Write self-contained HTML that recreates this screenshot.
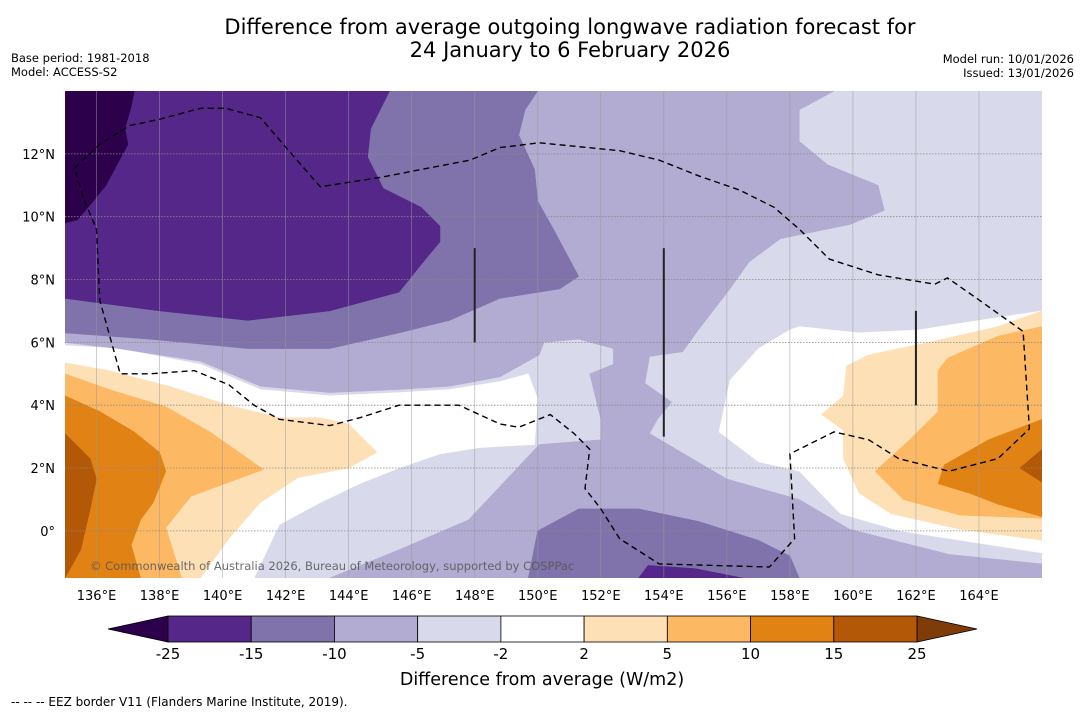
<!DOCTYPE html>
<html><head><meta charset="utf-8">
<style>
body{margin:0;background:#fff;width:1085px;height:713px;overflow:hidden;font-family:"Liberation Sans","DejaVu Sans",sans-serif;}
svg text{font-family:"DejaVu Sans","Liberation Sans",sans-serif;}
</style></head>
<body>
<svg id="chart" width="1085" height="713" viewBox="0 0 1085 713" xmlns="http://www.w3.org/2000/svg">
<text x="570" y="34" font-size="21" text-anchor="middle">Difference from average outgoing longwave radiation forecast for</text>
<text x="570" y="57" font-size="21" text-anchor="middle">24 January to 6 February 2026</text>
<text x="11" y="62" font-size="11.5">Base period: 1981-2018</text>
<text x="11" y="76" font-size="11.5">Model: ACCESS-S2</text>
<text x="1074" y="63" font-size="11.5" text-anchor="end">Model run: 10/01/2026</text>
<text x="1074" y="77" font-size="11.5" text-anchor="end">Issued: 13/01/2026</text>
<defs><clipPath id="mapclip"><rect x="65" y="91" width="977" height="487"/></clipPath></defs>
<g id="map" clip-path="url(#mapclip)"></g>
<g id="axes"></g>
<g id="cbar"></g>
<text x="542" y="685" font-size="17.5" text-anchor="middle">Difference from average (W/m2)</text>
<text x="11" y="706" font-size="12">--  --  -- EEZ border V11 (Flanders Marine Institute, 2019).</text>
</svg>
<script>
const lonTicks=[136,138,140,142,144,146,148,150,152,154,156,158,160,162,164];
const latTicks=[0,2,4,6,8,10,12];
const cbLevels=[-25,-15,-10,-5,-2,2,5,10,15,25];
const cbColors=["#542788","#8073ac","#b2abd2","#d8daeb","#ffffff","#fee0b6","#fdb863","#e08214","#b35806"];
const cbUnder="#2d004b", cbOver="#7f3b08";
const whiteLeft=[[135,5.9],[136.7,5.8],[139.3,5.3],[141.2,4.5],[143.4,4.3],[145.6,4.4],[147.2,4.5],[148.8,4.75],[149.7,5.0],[150,4.2],[149.9,2.75],[148.15,2.65],[146.9,2.45],[145.6,2.0],[144.35,1.5],[143.1,0.9],[141.8,0.2],[141,-1.5],[135,-1.5]];
const whiteRight=[[166,7.0],[164,6.7],[162.1,6.4],[160.2,6.3],[158.3,6.5],[158,6.4],[157,5.8],[156.1,4.8],[155.75,3.15],[157,2.2],[158.3,1.9],[159.6,0.55],[161.5,0],[163.4,-0.3],[166,-0.7]];
const lightPurple=[[150.05,14],[159.4,14],[158.3,13.4],[158.3,12.4],[159.2,11.65],[160.8,11.0],[161,10.2],[159.9,9.75],[157.7,9.3],[156.7,8.55],[156.1,7.7],[155.1,6.4],[154.6,5.7],[153.55,5.55],[153.4,4.7],[154.25,4.1],[153.8,3.55],[153.55,3.1],[156,1.65],[158.3,1.0],[159.9,0.05],[163.05,-0.75],[166,-1.05],[166,-1.5],[143.4,-1.5],[145.6,-0.6],[147.8,0.35],[150.05,2.75],[152,2.9],[152,3.55],[151.65,5.0],[152.4,5.3],[152.4,5.8],[151.3,6.1],[150.2,6.0],[150.05,5.6],[148.8,4.9],[147.2,4.6],[145.6,4.5],[143.4,4.4],[141.2,4.6],[139.3,5.4],[136.7,5.8],[135,6.0],[135,14]];
const midPurpleTop=[[135,14],[150,14],[149.6,13.4],[149.4,12.6],[149.9,11.5],[150,10.5],[150.5,9.6],[151.3,8.1],[150.7,7.7],[148.8,7.4],[147.2,6.7],[145.6,6.3],[143.4,5.8],[140.8,5.8],[137.7,6.1],[135,6.3]];
const midPurpleBottom=[[149.7,-1.5],[150,0],[151.3,0.7],[153.2,0.7],[155.1,0.3],[157,-0.3],[158,-0.8],[158.3,-1.5]];
const darkPurpleTop=[[135,14],[145.3,14],[144.7,12.8],[144.6,11.9],[145.1,10.9],[146.3,10.3],[146.9,9.7],[146.9,9.2],[146.4,8.6],[145.6,7.6],[143.4,7.0],[140.8,6.7],[138,7.0],[135,7.4]];
const darkPurpleBottom=[[153.2,-1.5],[153.5,-1.1],[155,-1.2],[156.5,-1.5]];
const deepPurple=[[135,14],[137.2,14],[137.1,13.5],[136.9,12.8],[137,12.3],[136.3,11],[135.9,10.5],[135.4,9.9],[135,9.8]];
const orL1=[[135,5.35],[136.4,5.1],[138.3,4.6],[140.2,4.0],[141.8,3.6],[143.1,3.6],[144,3.4],[144.9,2.5],[144,2.0],[142.4,1.7],[141.2,0.9],[140.2,-0.25],[139.3,-1.5],[135,-1.5]];
const orL2=[[135,5.0],[136.4,4.5],[138.2,3.95],[139.6,3.15],[141.3,1.95],[140.2,1.55],[139,1.1],[138.2,0.1],[138.7,-1.5],[135,-1.5]];
const orL3=[[135,4.3],[136.1,3.8],[137.2,3.15],[138,2.5],[138.2,1.9],[137.8,0.9],[137.4,0.35],[137.1,-0.45],[137.4,-1.5],[135,-1.5]];
const orL4=[[135,3.1],[135.8,2.3],[136,1.65],[135.8,0.7],[135.5,-0.6],[135,-1.5]];
const orR1=[[166,7.0],[164.6,6.5],[162.4,6.0],[160.5,5.6],[159.8,5.25],[159.7,4.3],[159,3.7],[159.7,3.2],[159.7,2.3],[160.2,1.2],[161.2,0.55],[163.4,0.05],[166,-0.3]];
const orR2=[[166,6.5],[164.6,6.2],[163,5.5],[162.7,5.1],[162.7,3.8],[161.8,2.9],[160.7,1.9],[161.6,1.0],[163.4,0.5],[166,0.4]];
const orR3=[[166,3.55],[164.3,2.9],[162.9,2.1],[162.7,1.5],[163.7,1.2],[164.6,0.85],[166,0.45]];
const orR4=[[166,2.6],[165.3,2.0],[166,1.55]];
const eez=[[135.3,11.55],[136.1,12.3],[137.05,12.9],[138,13.1],[139.3,13.45],[140.1,13.45],[141.2,13.15],[142.1,12.1],[143.1,10.95],[145,11.25],[147.85,11.8],[148.8,12.2],[150.05,12.35],[152.6,12.1],[153.85,11.8],[155.1,11.3],[156.4,10.85],[157.5,10.3],[158.3,9.6],[159.25,8.65],[160.8,8.15],[162.6,7.85],[163,8.05],[164,7.35],[165.4,6.35],[165.6,3.25],[164.6,2.3],[163.05,1.9],[161.45,2.3],[160.5,2.9],[159.4,3.15],[158,2.45],[158.15,-0.25],[157.35,-1.15],[153.85,-1.05],[152.6,-0.25],[152,0.7],[151.5,1.35],[151.65,2.6],[151.15,3.1],[150.4,3.7],[149.4,3.3],[148.8,3.4],[147.5,4.0],[145.6,4.0],[144.35,3.6],[143.4,3.35],[141.8,3.55],[141,4.0],[140.2,4.65],[139.1,5.1],[137.7,5.0],[136.75,5.0],[136.1,7.35],[136,9.6],[135.6,10.55],[135.3,11.55]];
const segLons=[148,154,162];
const segLat0=[6,3,4];
const segLat1=[9,9,7];

const NS="http://www.w3.org/2000/svg";
const X0=65,X1=1042,Y0=91,Y1=578,LON0=135,LON1=166,LAT0=-1.5,LAT1=14;
const sx=l=>X0+(l-LON0)/(LON1-LON0)*(X1-X0);
const sy=l=>Y1-(l-LAT0)/(LAT1-LAT0)*(Y1-Y0);
function mk(tag,attrs,parent){const e=document.createElementNS(NS,tag);for(const k in attrs)e.setAttribute(k,attrs[k]);parent.appendChild(e);return e;}
const pts=a=>a.map(p=>sx(p[0]).toFixed(1)+","+sy(p[1]).toFixed(1)).join(" ");
const map=document.getElementById("map");
let bg=mk("rect",{x:X0,y:Y0,width:X1-X0,height:Y1-Y0,fill:"#d8daeb"},map);


const layers=[[whiteLeft,"#ffffff","white-left"],[whiteRight,"#ffffff","white-right"],[lightPurple,"#b2abd2","light-purple"],[midPurpleTop,"#8073ac","mid-purple-top"],[midPurpleBottom,"#8073ac","mid-purple-bottom"],[darkPurpleTop,"#542788","dark-purple-top"],[darkPurpleBottom,"#542788","dark-purple-bottom"],[deepPurple,"#2d004b","deep-purple"],[orL1,"#fee0b6","orange1-left"],[orL2,"#fdb863","orange2-left"],[orL3,"#e08214","orange3-left"],[orL4,"#b35806","orange4-left"],[orR1,"#fee0b6","orange1-right"],[orR2,"#fdb863","orange2-right"],[orR3,"#e08214","orange3-right"],[orR4,"#b35806","orange4-right"]];
layers.forEach(L=>{const p=mk("polygon",{points:pts(L[0]),fill:L[1],stroke:L[1],"stroke-width":0.5},map);

});
lonTicks.forEach(l=>{const g=mk("line",{x1:sx(l),x2:sx(l),y1:Y0,y2:Y1,stroke:"#999",opacity:0.6,"stroke-width":0.8},map);

});
latTicks.forEach(l=>{const g=mk("line",{x1:X0,x2:X1,y1:sy(l),y2:sy(l),stroke:"#888","stroke-width":0.8,"stroke-dasharray":"1.5,1.5"},map);

});
const ez=mk("polyline",{points:pts(eez),fill:"none",stroke:"#000","stroke-width":1.4,"stroke-dasharray":"6,4"},map);


segLons.forEach((l,i)=>{const s=mk("line",{x1:sx(l),x2:sx(l),y1:sy(segLat0[i]),y2:sy(segLat1[i]),stroke:"#222","stroke-width":2},map);

});
const cp=mk("text",{x:90,y:570,"font-size":11.5,fill:"#555",opacity:0.85},map);
cp.textContent="© Commonwealth of Australia 2026, Bureau of Meteorology, supported by COSPPac";


const ax=document.getElementById("axes");
lonTicks.forEach(l=>{const t=mk("text",{x:sx(l),y:600,"font-size":13,"text-anchor":"middle"},ax);t.textContent=l+"°E";

});
latTicks.forEach(l=>{const t=mk("text",{x:55,y:sy(l)+5,"font-size":13,"text-anchor":"end"},ax);t.textContent=l===0?"0°":l+"°N";

});
const cb=document.getElementById("cbar");
const CB0=168,CB1=917,CY0=616,CY1=642;
const cw=(CB1-CB0)/cbColors.length;
const tu=mk("polygon",{points:`${CB0},${CY0} ${CB0},${CY1} 108,629`,fill:cbUnder,stroke:"#000","stroke-width":0.8},cb);


const to=mk("polygon",{points:`${CB1},${CY0} ${CB1},${CY1} 977,629`,fill:cbOver,stroke:"#000","stroke-width":0.8},cb);


cbColors.forEach((c,i)=>{const r=mk("rect",{x:CB0+i*cw,y:CY0,width:cw,height:CY1-CY0,fill:c,stroke:"#000","stroke-width":0.8},cb);

});
cbLevels.forEach((v,i)=>{const t=mk("text",{x:CB0+i*cw,y:659,"font-size":15,"text-anchor":"middle"},cb);t.textContent=v;

});
</script>
</body></html>
